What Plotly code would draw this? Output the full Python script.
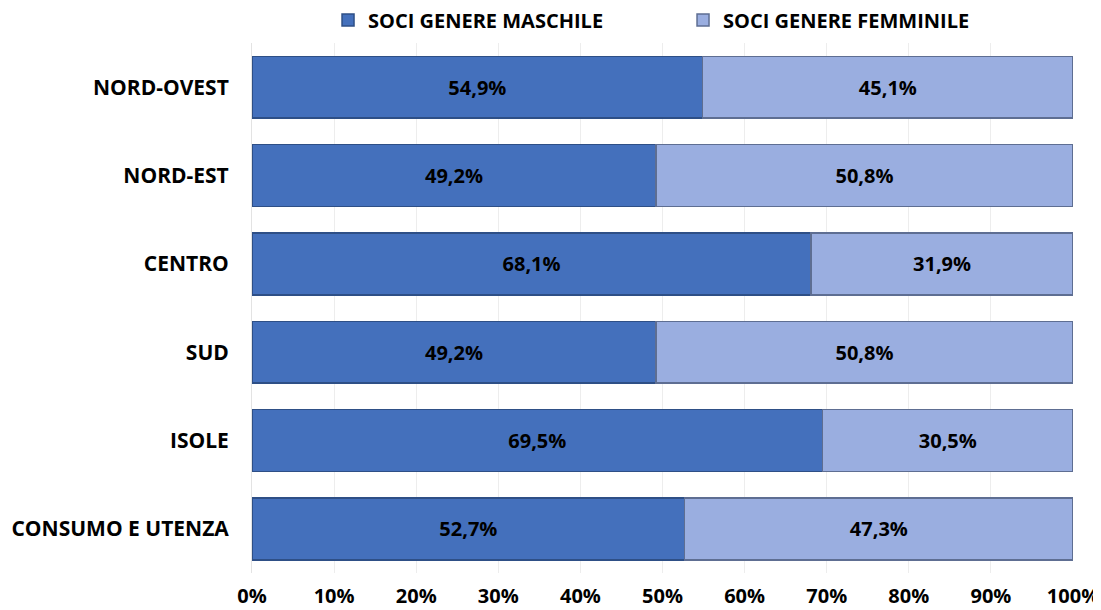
import plotly.graph_objects as go

categories = ["NORD-OVEST", "NORD-EST", "CENTRO", "SUD", "ISOLE", "CONSUMO E UTENZA"]
maschile = [54.9, 49.2, 68.1, 49.2, 69.5, 52.7]
femminile = [45.1, 50.8, 31.9, 50.8, 30.5, 47.3]
tick_vals = [0, 10, 20, 30, 40, 50, 60, 70, 80, 90, 100]
tick_text = [f"{v}%" for v in tick_vals]

def fmt(v):
    return f"{v:.1f}".replace(".", ",") + "%"

FONT = "Open Sans"

fig = go.Figure()
fig.add_trace(go.Bar(
    y=categories, x=maschile, orientation="h", name="SOCI GENERE MASCHILE",
    marker=dict(color="#4470BC", line=dict(color="#2E4F86", width=1.5)),
    text=[fmt(v) for v in maschile], textposition="inside", insidetextanchor="middle",
    textfont=dict(family=FONT, size=20, color="black", weight="bold"),
    width=0.7,
))
fig.add_trace(go.Bar(
    y=categories, x=femminile, orientation="h", name="SOCI GENERE FEMMINILE",
    marker=dict(color="#9AAEE0", line=dict(color="#5E6E92", width=1.5)),
    text=[fmt(v) for v in femminile], textposition="inside", insidetextanchor="middle",
    textfont=dict(family=FONT, size=20, color="black", weight="bold"),
    width=0.7,
))

# page body has an 8px margin: shrink the figure so it fits the 1101x610 window
fig.update_layout(
    barmode="stack",
    width=1093, height=602,
    paper_bgcolor="white", plot_bgcolor="white",
    margin=dict(l=244, r=28, t=35, b=37),
    font=dict(family=FONT, color="black"),
    legend=dict(orientation="h", x=0.525, xanchor="center", y=0.98, yanchor="middle",
                yref="container", font=dict(family=FONT, size=20, weight="bold"),
                traceorder="normal", itemwidth=30, entrywidth=310),
    showlegend=True,
    uniformtext=dict(mode="show", minsize=10),
)
fig.update_xaxes(range=[0, 100], tickvals=tick_vals, ticktext=tick_text,
                 showgrid=True, gridcolor="#EDEDED", gridwidth=1,
                 zeroline=False, showline=False, automargin=False,
                 tickfont=dict(family=FONT, size=20, weight="bold"),
                 ticks="", ticklabelstandoff=9)
fig.update_yaxes(autorange="reversed", categoryorder="array", categoryarray=categories,
                 showline=True, linecolor="#E3E3E3", linewidth=1, automargin=False,
                 tickfont=dict(family=FONT, size=21, weight="bold"),
                 ticks="", ticklabelstandoff=18, showgrid=False)

fig.write_html("out.html")
